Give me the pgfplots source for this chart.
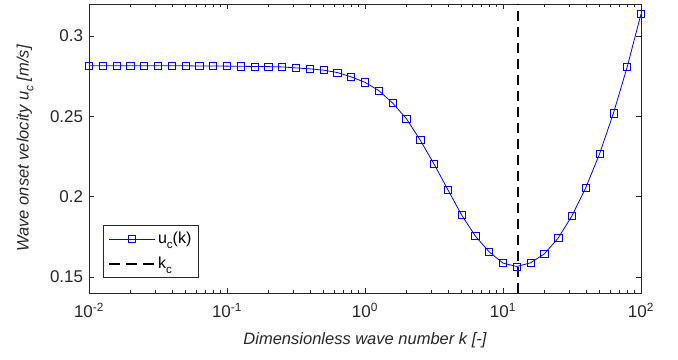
\documentclass[border=0pt]{standalone}
\usepackage{fontspec}
\setmainfont{Liberation Sans}
\usepackage{pgfplots}
\pgfplotsset{compat=1.18}
\usetikzlibrary{calc}
\definecolor{axgray}{RGB}{38,38,38}
\newcommand{\sub}[1]{\raisebox{-0.55ex}{\fontsize{0.72em}{1em}\selectfont #1}}
\begin{document}
\fontsize{14}{16}\selectfont
\begin{tikzpicture}
\begin{axis}[
  scale only axis, width=552pt, height=289pt,
  xmode=log, xmin=0.01, xmax=100, ymin=0.14, ymax=0.32,
  xtick={0.01,0.1,1,10,100},
  xticklabels={10\textsuperscript{-2},10\textsuperscript{-1},10\textsuperscript{0},10\textsuperscript{1},10\textsuperscript{2}},
  ytick={0.15,0.2,0.25,0.3},
  yticklabels={0.15,0.2,0.25,0.3},
  tick align=inside, major tick length=5pt, minor tick length=3pt,
  axis line style={axgray, line width=0.6pt},
  every tick/.style={axgray, line width=0.5pt},
  tick label style={font=\fontsize{17}{19}\selectfont, text=axgray},
  xticklabel style={yshift=-5pt},
  yticklabel style={xshift=-1pt},
  label style={font=\fontsize{16.5}{18}\selectfont\itshape, text=axgray},
  xlabel={Dimensionless wave number k [-]},
  ylabel={Wave onset velocity u\sub{c} [m/s]},
  xlabel style={yshift=-5pt},
  ylabel style={yshift=7pt},
  legend cell align=left,
  legend style={at={(0.025,0.052)}, anchor=south west, draw=axgray, line width=0.6pt,
    font=\fontsize{16}{18}\selectfont, inner xsep=5pt, inner ysep=5pt, row sep=7pt},
]
\addplot[blue, line width=0.8pt, mark=square, mark size=3.6pt, mark options={solid, line width=0.6pt},
  legend image code/.code={\draw[mark repeat=2,mark phase=2] plot coordinates {(0cm,0cm) (0.8cm,0cm) (1.6cm,0cm)};}] coordinates {
(0.01,0.2815) (0.012589,0.2815) (0.015849,0.2815) (0.019953,0.2815) (0.025119,0.2815)
(0.031623,0.2815) (0.039811,0.2815) (0.050119,0.2815) (0.063096,0.2814) (0.079433,0.2814)
(0.1,0.2813) (0.12589,0.2812) (0.15849,0.2811) (0.19953,0.2810) (0.25119,0.2808)
(0.31623,0.2802) (0.39811,0.2796) (0.50119,0.2788) (0.63096,0.2773) (0.79433,0.2746)
(1,0.2712) (1.2589,0.2661) (1.5849,0.2583) (1.9953,0.2486) (2.5119,0.2352)
(3.1623,0.2204) (3.9811,0.2044) (5.0119,0.1886) (6.3096,0.1754) (7.9433,0.1656)
(10,0.1586) (12.589,0.1565) (15.849,0.1588) (19.953,0.1644) (25.119,0.1742)
(31.623,0.1881) (39.811,0.2056) (50.119,0.2267) (63.096,0.2519) (79.433,0.2808)
(100,0.3138)
};
\addlegendentry{u\sub{c}(k)}
\addplot[black, line width=2.4pt, dash pattern=on 10pt off 6pt,
  legend image code/.code={\draw[dash pattern=on 11pt off 6pt] (0cm,0cm) -- (1.6cm,0cm);}] coordinates {(12.9,0.14) (12.9,0.32)};
\addlegendentry{k\sub{c}}
\end{axis}
\pgfresetboundingbox
\path (current axis.south west) ++(-89pt,-67pt) coordinate (bl);
\path (current axis.north east) ++(37pt,4pt) coordinate (tr);
\path (bl) rectangle (tr);
\end{tikzpicture}
\end{document}
